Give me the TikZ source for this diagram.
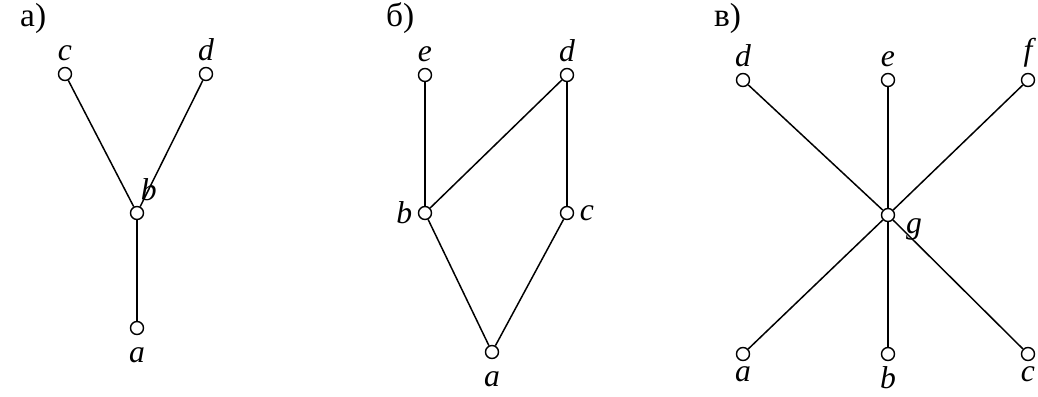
\documentclass[tikz,border=0pt]{standalone}
\usepackage{fontspec}
\setmainfont{Liberation Serif}
\usetikzlibrary{positioning}

\begin{document}
\begin{tikzpicture}[
  x=0.02cm, y=-0.02cm,
  font=\fontsize{19}{22}\selectfont,
  vert/.style={circle, draw, fill=white, line width=0.8pt, inner sep=0pt, minimum size=0.26cm},
  lbl/.style={font=\fontsize{18}{21}\selectfont\itshape, inner sep=1pt, label distance=2pt},
  dlbl/.style={lbl, label distance=6pt},
  edge/.style={line width=0.85pt}
]
\useasboundingbox (0,0) rectangle (1038,396);
% a)
\node[anchor=west] (capA) at (14,18) {а)};
\node[vert, label={[lbl]above:c}] (ac) at (65,74) {};
\node[vert, label={[lbl]above:d}] (ad) at (206,74) {};
\node[vert, label={[lbl]80:b}] (ab) at (137,213) {};
\node[vert, label={[dlbl]below:a}] (aa) at (137,328) {};
\draw[edge] (ac) -- (ab);
\draw[edge] (ad) -- (ab);
\draw[edge] (ab) -- (aa);
% b)
\node[anchor=west] (capB) at (380,18) {б)};
\node[vert, label={[lbl]above:e}] (be) at (425,75) {};
\node[vert, label={[lbl]above:d}] (bd) at (567,75) {};
\node[vert, label={[lbl]left:b}] (bb) at (425,213) {};
\node[vert, label={[lbl]right:c}] (bc) at (567,213) {};
\node[vert, label={[dlbl]below:a}] (ba) at (492,352) {};
\draw[edge] (be) -- (bb);
\draw[edge] (bd) -- (bb);
\draw[edge] (bd) -- (bc);
\draw[edge] (bb) -- (ba);
\draw[edge] (bc) -- (ba);
% c)
\node[anchor=west] (capC) at (708,18) {в)};
\node[vert, label={[lbl]above:d}] (cd) at (743,80) {};
\node[vert, label={[lbl]above:e}] (ce) at (888,80) {};
\node[vert, label={[lbl]above:f}] (cf) at (1028,80) {};
\node[vert, label={[lbl,label distance=5pt]-5:g}] (cg) at (888,215) {};
\node[vert, label={[lbl]below:a}] (ca) at (743,354) {};
\node[vert, label={[lbl]below:b}] (cb) at (888,354) {};
\node[vert, label={[lbl]below:c}] (cc) at (1028,354) {};
\foreach \v in {cd,ce,cf,ca,cb,cc}
  \draw[edge] (\v) -- (cg);
\end{tikzpicture}
\end{document}
